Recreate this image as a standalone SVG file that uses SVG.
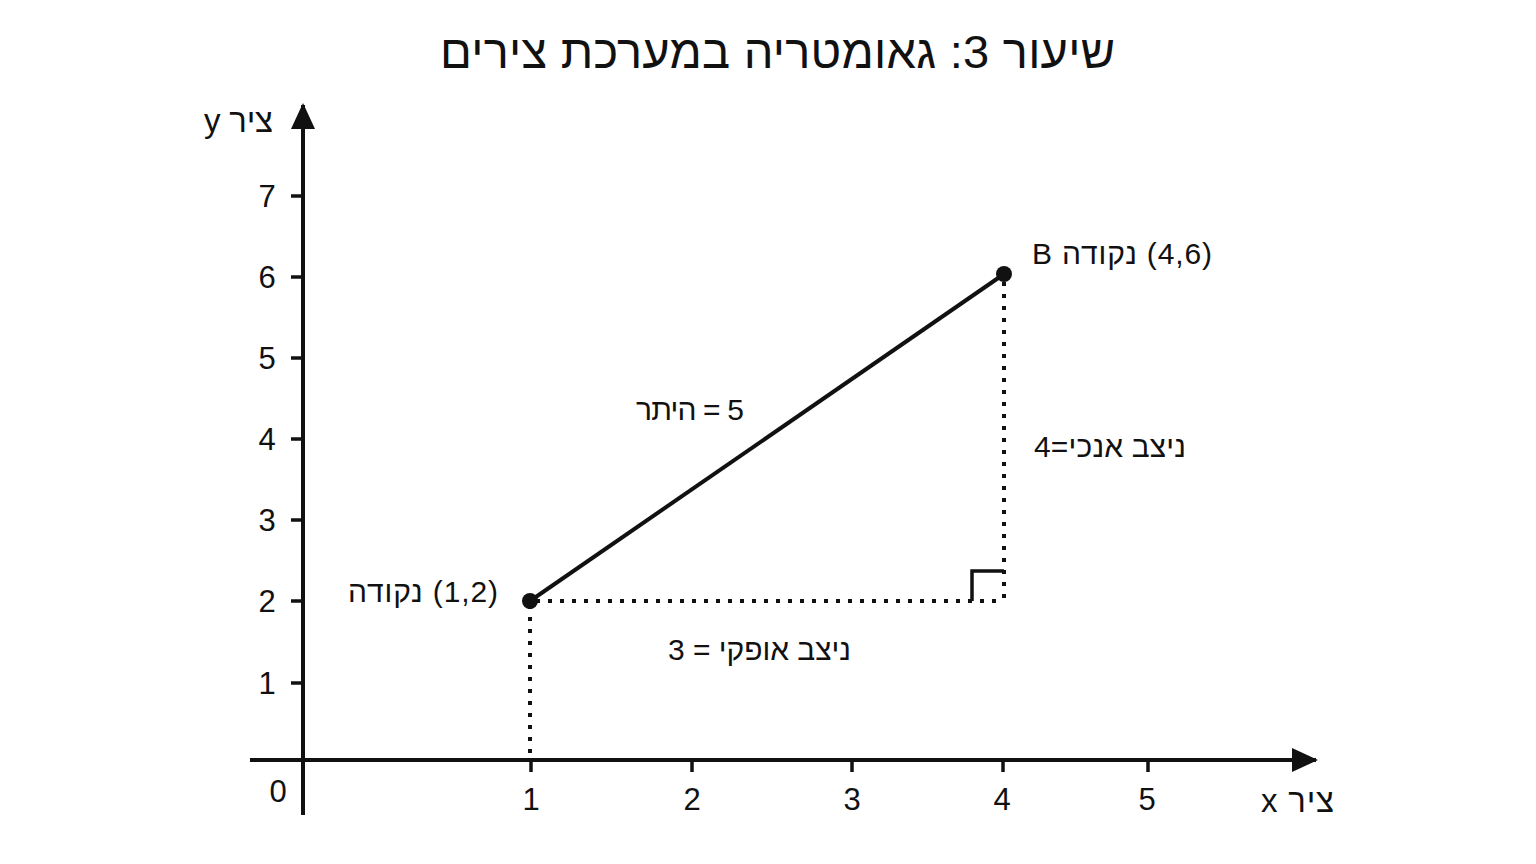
<svg xmlns="http://www.w3.org/2000/svg" width="1536" height="864" viewBox="0 0 1536 864">
<style>
text{font-family:"Liberation Sans","Noto Sans","DejaVu Sans",sans-serif;fill:#111}
.he{direction:rtl;unicode-bidi:embed}
.title{font-size:47px}
.tick{font-size:31px;text-anchor:middle}
.ax{font-size:33px}
.lbl{font-size:30px}
.axis{stroke:#111;stroke-width:4;fill:none}
.tk{stroke:#111;stroke-width:3.5}
.dot{stroke:#111;stroke-width:4;stroke-dasharray:4 8;fill:none}
</style>
<defs>
<marker id="arr" viewBox="0 0 26 24" refX="24" refY="12" markerWidth="26" markerHeight="24" markerUnits="userSpaceOnUse" orient="auto">
<path d="M0,0 L26,12 L0,24 Z" fill="#111"/>
</marker>
</defs>
<rect width="1536" height="864" fill="#fff"/>
<text id="title" class="title he" x="1115" y="68" text-anchor="start" textLength="675" lengthAdjust="spacing">שיעור 3: גאומטריה במערכת צירים</text>
<g id="axes">
<line class="axis" x1="303" y1="815" x2="303" y2="105" marker-end="url(#arr)"/>
<line class="axis" x1="250" y1="760" x2="1316" y2="760" marker-end="url(#arr)"/>
<g id="yticks">
<line class="tk" x1="291" y1="196" x2="303" y2="196"/>
<line class="tk" x1="291" y1="277" x2="303" y2="277"/>
<line class="tk" x1="291" y1="358" x2="303" y2="358"/>
<line class="tk" x1="291" y1="439" x2="303" y2="439"/>
<line class="tk" x1="291" y1="520" x2="303" y2="520"/>
<line class="tk" x1="291" y1="601" x2="303" y2="601"/>
<line class="tk" x1="291" y1="683" x2="303" y2="683"/>
</g>
<g id="xticks">
<line class="tk" x1="531" y1="760" x2="531" y2="772"/>
<line class="tk" x1="692" y1="760" x2="692" y2="772"/>
<line class="tk" x1="852" y1="760" x2="852" y2="772"/>
<line class="tk" x1="1003" y1="760" x2="1003" y2="772"/>
<line class="tk" x1="1148" y1="760" x2="1148" y2="772"/>
</g>
<g id="ylabels">
<text class="tick" x="267" y="207">7</text>
<text class="tick" x="267" y="288">6</text>
<text class="tick" x="267" y="369">5</text>
<text class="tick" x="267" y="450">4</text>
<text class="tick" x="267" y="531">3</text>
<text class="tick" x="267" y="612">2</text>
<text class="tick" x="267" y="694">1</text>
</g>
<g id="xlabels">
<text class="tick" x="278" y="802">0</text>
<text class="tick" x="531" y="810">1</text>
<text class="tick" x="692" y="810">2</text>
<text class="tick" x="852" y="810">3</text>
<text class="tick" x="1002" y="810">4</text>
<text class="tick" x="1147" y="810">5</text>
</g>
<text id="ylabel" class="ax he" x="273" y="132" text-anchor="start" textLength="69" lengthAdjust="spacing">ציר y</text>
<text id="xlabel" class="ax he" x="1334" y="812" text-anchor="start" textLength="73" lengthAdjust="spacing">ציר x</text>
</g>
<g id="connectors">
<line class="dot" x1="530" y1="605" x2="530" y2="760"/>
<line class="dot" x1="1004" y1="282" x2="1004" y2="601"/>
<line class="dot" x1="536" y1="601" x2="1004" y2="601"/>
<line x1="530" y1="601" x2="1004" y2="274" stroke="#111" stroke-width="4"/>
<path d="M972,601 V571 H1004" fill="none" stroke="#111" stroke-width="3.5"/>
</g>
<g id="pointA">
<circle cx="530" cy="601" r="8" fill="#111"/>
<text class="lbl he" x="498" y="602" text-anchor="start" textLength="150" lengthAdjust="spacing">(1,2) נקודה</text>
</g>
<g id="pointB">
<circle cx="1004" cy="274" r="8" fill="#111"/>
<text class="lbl he" x="1212" y="264" text-anchor="start" textLength="180" lengthAdjust="spacing">(4,6) נקודה B</text>
</g>
<text id="hyp" class="lbl he" x="744" y="420" text-anchor="start" textLength="108" lengthAdjust="spacing">5 = היתר</text>
<text id="vert" class="lbl he" x="1186" y="457" text-anchor="start" textLength="152" lengthAdjust="spacing">ניצב אנכי=4</text>
<text id="horiz" class="lbl he" x="851" y="660" text-anchor="start" textLength="183" lengthAdjust="spacing">ניצב אופקי = 3</text>
</svg>
